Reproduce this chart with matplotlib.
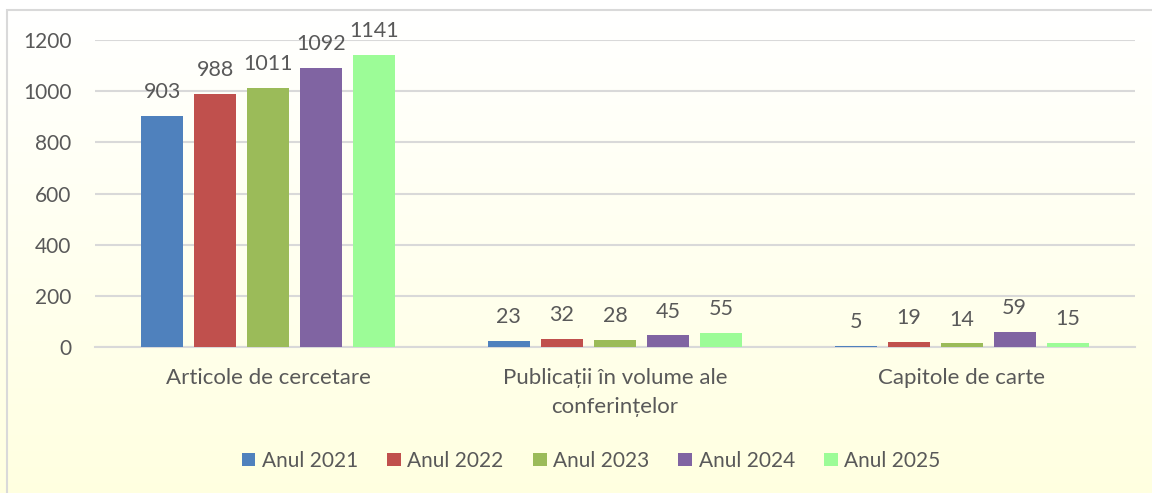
import numpy as np
import matplotlib
matplotlib.use('Agg')
import matplotlib.pyplot as plt
from matplotlib.patches import Rectangle

plt.rcParams['font.family'] = ['Lato', 'DejaVu Sans']

# date
categorii = ['Articole de cercetare', 'Publicații în volume ale\nconferințelor', 'Capitole de carte']
ani = ['Anul 2021', 'Anul 2022', 'Anul 2023', 'Anul 2024', 'Anul 2025']
v2021 = [903, 23, 5]
v2022 = [988, 32, 19]
v2023 = [1011, 28, 14]
v2024 = [1092, 45, 59]
v2025 = [1141, 55, 15]
serii = [v2021, v2022, v2023, v2024, v2025]
culori = ['#4F81BD', '#C0504D', '#9BBB59', '#8064A2', '#9CFC97']
text_col = '#595959'

fig = plt.figure(figsize=(11.52, 4.93), dpi=100)

# fundal cu gradient alb -> galben deschis
bg = fig.add_axes([0, 0, 1, 1], zorder=0)
grad = np.linspace(0, 1, 256).reshape(-1, 1)
top = np.array([1.0, 1.0, 1.0])
bot = np.array([1.0, 1.0, 0.88])
img = top + (bot - top) * grad[:, :, None]
bg.imshow(img, aspect='auto', extent=[0, 1, 0, 1 - 10 / 493], origin='upper')
bg.set_xlim(0, 1)
bg.set_ylim(0, 1)
bg.axis('off')
bg.add_patch(Rectangle((7 / 1152, -0.01), 1.0, 1 - 10 / 493 + 0.01, fill=False,
                       edgecolor='#D9D9D9', linewidth=1.5))

ax = fig.add_axes([95 / 1152, 1 - 347 / 493, (1135 - 95) / 1152, (347 - 40) / 493], zorder=1)
ax.patch.set_alpha(0)

x = np.arange(len(categorii))
w = 0.121
step = 0.153
for i, (vals, c, lab) in enumerate(zip(serii, culori, ani)):
    pos = x + (i - 2) * step
    bars = ax.bar(pos, vals, width=w, color=c, label=lab, zorder=3)
    for b, v in zip(bars, vals):
        ax.annotate(str(v), (b.get_x() + b.get_width() / 2, v), xytext=(0, 10),
                    textcoords='offset points', ha='center', va='bottom',
                    fontsize=15.5, color=text_col)

ax.set_xlim(-0.5, 2.5)
ax.set_ylim(0, 1200)
ax.set_yticks(range(0, 1201, 200))
ax.yaxis.grid(True, color='#D9D9D9', linewidth=1.5, zorder=0)
ax.set_axisbelow(True)
for s in ['top', 'right', 'left']:
    ax.spines[s].set_visible(False)
ax.spines['bottom'].set_color('#D9D9D9')
ax.spines['bottom'].set_linewidth(1.5)
ax.tick_params(axis='both', length=0, labelsize=15, labelcolor=text_col)
ax.tick_params(axis='y', pad=17)
ax.tick_params(axis='x', pad=15, labelsize=16)
ax.set_xticks(x)
ax.set_xticklabels(categorii, linespacing=1.55)

fig.legend(loc='center', bbox_to_anchor=(591 / 1152, 1 - 461 / 493), ncol=5, frameon=False,
           fontsize=15, handlelength=0.67, handleheight=0.63, handletextpad=0.3,
           columnspacing=1.4, labelcolor=text_col)

plt.savefig('out.png', dpi=100)
